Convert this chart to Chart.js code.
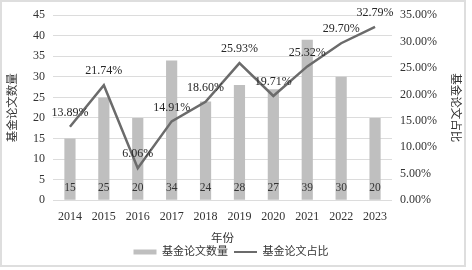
<!DOCTYPE html>
<html>
<head>
<meta charset="utf-8">
<script src="https://cdn.jsdelivr.net/npm/chart.js@4.4.0/dist/chart.umd.min.js"></script>
<style>
  body { margin: 0; background: #fff; }
  #wrap { position: relative; width: 472px; height: 270px; }
</style>
</head>
<body>
<div id="wrap"><canvas id="fundChart" width="472" height="270"></canvas></div>
<script>
const years = ["2014", "2015", "2016", "2017", "2018", "2019", "2020", "2021", "2022", "2023"];
const paperCounts = [15, 25, 20, 34, 24, 28, 27, 39, 30, 20];
const paperShares = [13.89, 21.74, 6.06, 14.91, 18.60, 25.93, 19.71, 25.32, 29.70, 32.79];

const serif = "'Liberation Serif', 'Times New Roman', serif";
const cjk = "'Liberation Serif', 'Noto Sans CJK SC', serif";

// value labels + outer frame
const labelPlugin = {
  id: "valueLabels",
  beforeDraw(chart) {
    const c = chart.ctx;
    c.save();
    c.strokeStyle = "#dedede";
    c.lineWidth = 2;
    c.strokeRect(1, 1, 464, 265);
    c.restore();
  },
  afterDatasetsDraw(chart) {
    const c = chart.ctx;
    c.save();
    c.textAlign = "center";
    c.textBaseline = "middle";
    const zeroY = chart.scales.y.getPixelForValue(0);

    chart.getDatasetMeta(0).data.forEach((bar, i) => {
      c.font = "11.5px " + serif;
      c.fillStyle = "#333";
      c.fillText(paperCounts[i], bar.x, zeroY - 12);
    });

    chart.getDatasetMeta(1).data.forEach((pt, i) => {
      c.font = "12px " + serif;
      c.fillStyle = "#262626";
      c.fillText(paperShares[i].toFixed(2) + "%", pt.x, pt.y - 14);
    });
    c.restore();
  },
};

new Chart(document.getElementById("fundChart"), {
  type: "bar",
  data: {
    labels: years,
    datasets: [
      {
        type: "bar",
        label: "基金论文数量",
        data: paperCounts,
        backgroundColor: "#bfbfbf",
        yAxisID: "y",
        barPercentage: 0.66,
        categoryPercentage: 0.5,
        order: 2,
      },
      {
        type: "line",
        label: "基金论文占比",
        data: paperShares,
        borderColor: "#6b6b6b",
        backgroundColor: "#6b6b6b",
        borderWidth: 2.5,
        pointRadius: 0,
        tension: 0,
        yAxisID: "y1",
        order: 1,
      },
    ],
  },
  options: {
    responsive: false,
    animation: false,
    layout: { padding: { left: 0, right: 10, top: 15, bottom: 2.5 } },
    plugins: {
      tooltip: { enabled: false },
      legend: {
        position: "bottom",
        labels: {
          usePointStyle: true,
          pointStyleWidth: 23,
          boxHeight: 5,
          padding: 6,
          color: "#333",
          font: { family: cjk, size: 11 },
          sort: (a, b) => a.datasetIndex - b.datasetIndex,
          generateLabels(chart) {
            const items = Chart.defaults.plugins.legend.labels.generateLabels(chart);
            items.forEach((it) => {
              if (it.datasetIndex === 0) {
                it.pointStyle = "rect";
                it.lineWidth = 0;
              } else {
                it.pointStyle = "line";
                it.lineWidth = 2;
                it.strokeStyle = "#6b6b6b";
              }
            });
            return items;
          },
        },
      },
    },
    scales: {
      x: {
        grid: { display: false, drawTicks: false },
        border: { display: false },
        ticks: { color: "#333", font: { family: serif, size: 12 }, padding: 9 },
        title: {
          display: true,
          text: "年份",
          color: "#333",
          font: { family: cjk, size: 11.5 },
          padding: { top: -0.5, bottom: -5.4 },
        },
      },
      y: {
        position: "left",
        min: 0,
        max: 45,
        ticks: { stepSize: 5, color: "#333", font: { family: serif, size: 12 }, padding: 8 },
        grid: { color: "#dcdcdc", drawTicks: false },
        border: { display: false },
        title: {
          display: true,
          text: "基金论文数量",
          color: "#333",
          font: { family: cjk, size: 11.5 },
          padding: { top: 6, bottom: 0 },
        },
        afterFit(scale) { scale.width = 53; },
      },
      y1: {
        position: "right",
        min: 0,
        max: 35,
        ticks: {
          stepSize: 5,
          color: "#333",
          font: { family: serif, size: 12 },
          padding: 8,
          callback: (v) => v.toFixed(2) + "%",
        },
        grid: { display: false, drawTicks: false },
        border: { display: false },
        title: {
          display: true,
          text: "基金论文占比",
          color: "#333",
          font: { family: cjk, size: 11.5 },
          padding: { top: 0, bottom: 0 },
        },
        afterFit(scale) { scale.width = 70; },
      },
    },
  },
  plugins: [labelPlugin],
});
</script>
</body>
</html>
